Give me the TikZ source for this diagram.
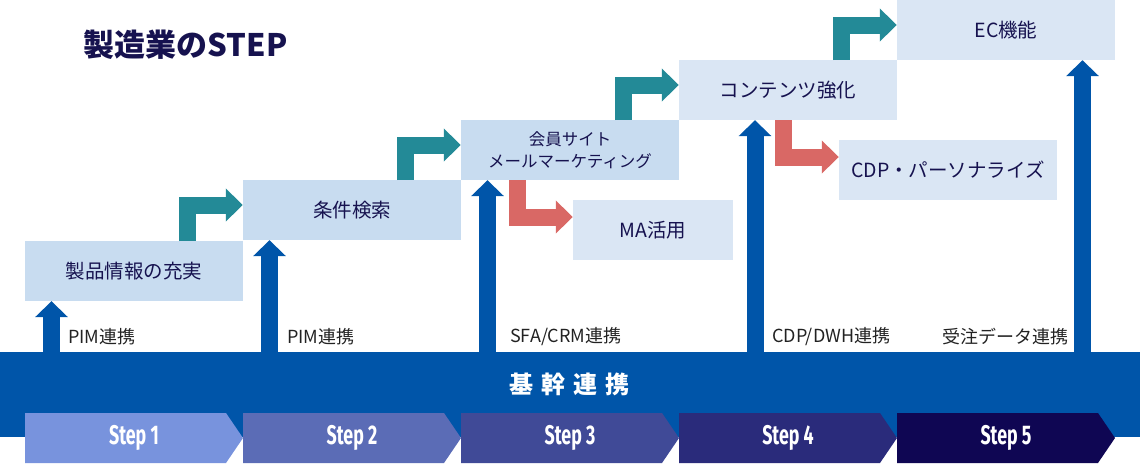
\documentclass[tikz,border=0pt]{standalone}
\usepackage{fontspec}
\usepackage{graphicx}
\setmainfont{Noto Sans CJK JP}
\newfontfamily\stepfont{Fira Sans}
\usetikzlibrary{arrows.meta}

\definecolor{band}{HTML}{0055A9}
\definecolor{navy}{HTML}{16124F}
\definecolor{ink}{HTML}{222222}
\definecolor{boxblue}{HTML}{C8DCF0}
\definecolor{boxpale}{HTML}{DAE6F4}
\definecolor{tealar}{HTML}{238A97}
\definecolor{coral}{HTML}{D96865}
\definecolor{stepA}{HTML}{7893DD}
\definecolor{stepB}{HTML}{5B6CB6}
\definecolor{stepC}{HTML}{404A97}
\definecolor{stepD}{HTML}{2A2B7B}
\definecolor{stepE}{HTML}{0F0653}

\tikzset{
  stage/.style={rectangle,fill=boxblue,minimum width=218pt,minimum height=60pt,
    inner sep=0pt,text=navy,font=\fontsize{19.5}{23}\selectfont},
  sidebox/.style={stage,fill=boxpale},
  link/.style={anchor=west,inner sep=0pt,text=ink,font=\fontsize{18}{21}\selectfont},
  steplabel/.style={text=white,inner sep=0pt,font=\fontsize{27}{30}\selectfont},
  uparrow/.style={draw=band,line width=17pt,-{Triangle[width=32pt,length=16pt]}},
  nextarrow/.style={draw=tealar,line width=17pt,-{Triangle[width=32pt,length=17pt]}},
  subarrow/.style={draw=coral,line width=17pt,-{Triangle[width=32pt,length=17pt]}}
}

\begin{document}
\begin{tikzpicture}[x=1pt,y=-1pt]
  \useasboundingbox (0,0) rectangle (1140,463);
  \node at (80,45) (title) [anchor=west,text=navy,font=\bfseries\fontsize{31}{36}\selectfont] {製造業のSTEP};

  \node at (570,394.5) (kikan) [rectangle,fill=band,minimum width=1140pt,minimum height=85pt,inner sep=0pt] {};
  \node at (569.5,384.5) (kikantxt) [text=white,font=\bfseries\fontsize{24}{28}\selectfont]
    {基\hspace{0.32em}幹\hspace{0.32em}連\hspace{0.32em}携};

  \foreach \i/\c in {1/stepA,2/stepB,3/stepC,4/stepD,5/stepE} {
    \fill[\c] ({25+218*(\i-1)},413) -- ++(201,0) -- ++(17,25) -- ++(-17,25) -- ++(-201,0) -- cycle;
    \node at ({134+218*(\i-1)},438) (s\i) [steplabel] {\scalebox{0.66}[1]{\stepfont\bfseries Step \i}};
  }

  \node at (134,271) (b1) [stage] {製品情報の充実};
  \node at (352,210) (b2) [stage] {条件検索};
  \node at (570,150) (b3) [stage,align=center,font=\fontsize{16.5}{22}\selectfont] {会員サイト\\メールマーケティング};
  \node at (788,90) (b4) [stage,fill=boxpale] {コンテンツ強化};
  \node at (1006,30) (b5) [stage,fill=boxpale] {EC機能};
  \node at (653,230) (ma) [sidebox,minimum width=160pt] {MA活用};
  \node at (948,170) (cdp) [sidebox] {CDP・パーソナライズ};

  \node at (68,337) (l1) [link] {PIM連携};
  \node at (287,337) (l2) [link] {PIM連携};
  \node at (510,337) (l3) [link] {SFA/CRM連携};
  \node at (772,337) (l4) [link] {CDP/DWH連携};
  \node at (942,337) (l5) [link] {受注データ連携};

  \coordinate (u1) at (51.5,352);
  \coordinate (u2) at (269.5,352);
  \coordinate (u3) at (487.5,352);
  \coordinate (u4) at (755,352);
  \coordinate (u5) at (1082.5,352);
  \draw[uparrow] (u1) -- (u1 |- b1.south);
  \draw[uparrow] (u2) -- (u2 |- b2.south);
  \draw[uparrow] (u3) -- (u3 |- b3.south);
  \draw[uparrow] (u4) -- (u4 |- b4.south);
  \draw[uparrow] (u5) -- (u5 |- b5.south);

  \coordinate (n1) at (187.5,241);
  \coordinate (n2) at (405.5,180);
  \coordinate (n3) at (623.5,120);
  \coordinate (n4) at (841.5,60);
  \draw[nextarrow] (n1) |- ([yshift=5pt]b2.west);
  \draw[nextarrow] (n2) |- ([yshift=5pt]b3.west);
  \draw[nextarrow] (n3) |- ([yshift=5pt]b4.west);
  \draw[nextarrow] (n4) |- ([yshift=5pt]b5.west);

  \coordinate (r1) at (517.5,180);
  \coordinate (r2) at (783.5,120);
  \draw[subarrow] (r1) |- ([yshift=13pt]ma.west);
  \draw[subarrow] (r2) |- ([yshift=13pt]cdp.west);
\end{tikzpicture}
\end{document}
